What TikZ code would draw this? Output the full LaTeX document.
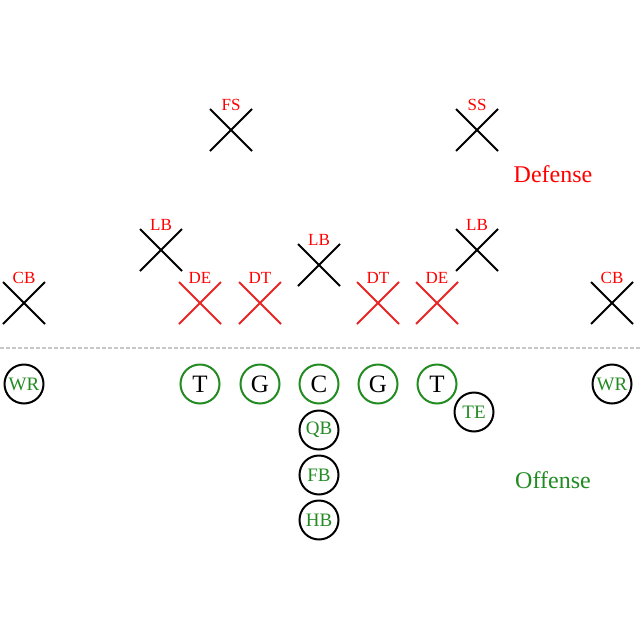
\documentclass[tikz,border=0pt]{standalone}
\usepackage{fontspec}
\setmainfont{Liberation Serif}
\usetikzlibrary{shapes.misc}
\definecolor{dred}{RGB}{255,0,0}
\definecolor{xred}{RGB}{232,36,36}
\definecolor{ogreen}{RGB}{34,139,34}
\definecolor{lgray}{RGB}{200,200,200}
\begin{document}
\begin{tikzpicture}[x=1pt,y=-1pt,
  player/.style={cross out,draw=black,line width=2pt,minimum size=40pt,inner sep=0pt,
    label={[text=dred,font=\fontsize{17}{17}\selectfont,inner sep=0pt,label distance=-2pt]above:#1}},
  lineman/.style={cross out,draw=xred,line width=2pt,minimum size=40pt,inner sep=0pt,
    label={[text=dred,font=\fontsize{17}{17}\selectfont,inner sep=0pt,label distance=-2pt]above:#1}},
  oline/.style={circle,draw=ogreen,line width=2pt,minimum size=39pt,inner sep=0pt,
    font=\fontsize{25}{25}\selectfont,text=black},
  back/.style={circle,draw=black,line width=2pt,minimum size=39pt,inner sep=0pt,
    font=\fontsize{19}{19}\selectfont,text=ogreen},
  title/.style={font=\fontsize{24}{24}\selectfont,inner sep=0pt}]
\useasboundingbox (0,0) rectangle (640,640);
% defense
\node[player=FS] (fs) at (231,130) {};
\node[player=SS] (ss) at (477,130) {};
\node[player=LB] (lb1) at (161,250) {};
\node[player=LB] (lb2) at (319,265) {};
\node[player=LB] (lb3) at (477,250) {};
\node[player=CB] (cb1) at (24,303) {};
\node[player=CB] (cb2) at (612,303) {};
\node[lineman=DE] (de1) at (200,303) {};
\node[lineman=DT] (dt1) at (260,303) {};
\node[lineman=DT] (dt2) at (378,303) {};
\node[lineman=DE] (de2) at (437,303) {};
\node[title,text=dred] (def) at (553,174) {Defense};
% line of scrimmage
\coordinate (los1) at (0,348);
\coordinate (los2) at (640,348);
\draw[lgray,line width=1.5pt,dash pattern=on 4pt off 2pt] (los1) -- (los2);
% offense
\node[back] (wr1) at (24,384) {WR};
\node[oline] (t1) at (200,384) {T};
\node[oline] (g1) at (260,384) {G};
\node[oline] (c) at (319,384) {C};
\node[oline] (g2) at (378,384) {G};
\node[oline] (t2) at (437,384) {T};
\node[back] (te) at (474,412) {TE};
\node[back] (wr2) at (612,384) {WR};
\node[back] (qb) at (319,430) {QB};
\node[back] (fb) at (319,475) {FB};
\node[back] (hb) at (319,520) {HB};
\node[title,text=ogreen] (off) at (553,480) {Offense};
\end{tikzpicture}
\end{document}
